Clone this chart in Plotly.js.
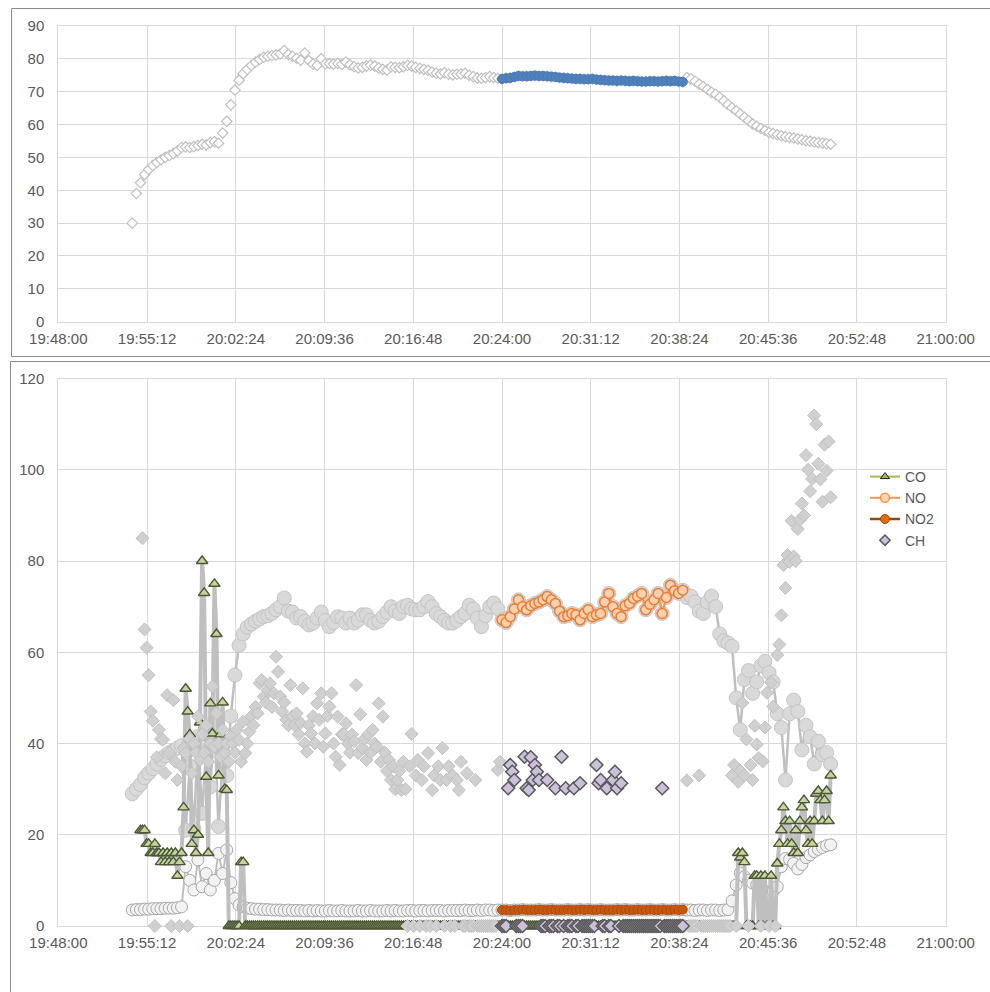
<!DOCTYPE html>
<html><head><meta charset="utf-8">
<script src="https://cdn.plot.ly/plotly-3.0.1.min.js"></script>
<style>html,body{margin:0;padding:0;background:#fff}#chart{width:990px;height:992px}</style>
</head><body><div id="chart"></div>
<script>
// ---------------- data ----------------
const xTickLabels = ['19:48:00','19:55:12','20:02:24','20:09:36','20:16:48','20:24:00','20:31:12','20:38:24','20:45:36','20:52:48','21:00:00'];
const startTime = '19:54:00';     // first sample
const stepMain = 20;              // s between samples (top, NO, NO2)
const stepFine = 10;              // s between samples (CO, CH)
const windowStart = '20:24:00';   // highlighted measuring window
const windowEnd = '20:38:40';

const topVals = [30,39,42.3,44.8,46.3,47.5,48.5,49.3,50,50.6,
51.2,52,53,53.2,53,53.3,53.6,54,53.8,54.5,
54.8,54.3,57.4,61,66,70.5,73.5,75.5,76.8,78,
79,79.8,80.5,80.8,81,81.2,81.5,82.5,81.3,80.8,
80.2,79.6,81.8,79.5,78.4,78,80,78.5,78.6,78.4,
78.6,78.3,79,78.2,77.6,77.2,77.4,77.8,78.1,77.8,
77.2,76.8,76.6,77.6,77.4,77.3,77.6,78,77.8,77.4,
77.1,76.8,76.5,76,75.6,75.4,75.8,75.3,75.1,75.3,
75.4,75.6,75,74.6,74.2,74.1,74.3,74.6,74.3,74.1,
73.9,74.1,74.2,74.5,74.8,74.7,74.7,74.8,74.9,74.8,
74.8,74.7,74.6,74.5,74.3,74.2,74.1,74,73.9,73.9,
73.8,73.8,73.9,73.7,73.6,73.5,73.4,73.4,73.3,73.4,
73.3,73.2,73.3,73.2,73.1,73.1,73.2,73.2,73.1,73.2,
73.3,73.2,73.3,73.1,73,74.3,73.9,73.2,72.3,71.6,
70.7,69.8,69.2,68.3,67.2,66.1,65.1,64.2,63.2,62.2,
61.2,60.2,59.5,58.8,58.2,57.6,57.3,56.9,56.6,56.3,
56.1,55.9,55.6,55.4,55.1,54.9,54.7,54.5,54.4,54.2,
54];

const noVals = [29,30,31,32.5,33.5,34.5,35.5,36.5,37.3,38,
38.5,39,39.5,21,35,21.3,41.5,24.7,38.6,30.5,
44.5,21.8,36.4,33,46,55,61.5,64,65.5,66.2,
66.8,67.3,67.8,68,68.5,69.3,70,71.9,69,68.8,
67.5,67.8,66.8,66,66.4,67.5,68.8,67,65.6,66.5,
67.8,67.5,66.4,67.5,66.4,67,68.2,68.2,67,66.4,
66.8,67.8,68.8,70,69,68.5,70,70.3,69.5,69.3,
69.3,70,71.1,70,68.5,67.8,67,66.4,66.4,67,
67.8,68.5,70.3,69.5,67.5,65.6,68,70,70.8,69.5,
67.1,66.5,67.8,69.5,71.5,70,69.3,70.2,70.7,71,
71.5,72.2,71.5,70.7,69,67.8,68,68.5,68.2,67.1,
68.5,69.3,67.8,68.2,68.5,71,72.9,70,68.5,67.8,
70.2,70.7,71.8,72.3,72.9,69.3,70.5,71.5,72.9,68.5,
72,74.7,73.5,72.9,73.6,72,72.3,71,69,68.5,
71,72.3,70,64,62.5,62,61.3,50,43,54,
56,51,53.5,57,58,55.5,53.5,46.5,43.5,32,
46.5,49.5,47,38.6,44,41.5,35.5,40.5,37.5,38,
35.5];

const no2Vals = [3.5,3.6,3.6,3.7,3.7,3.8,3.8,3.8,3.9,3.9,
3.9,4,4.2,13,10,7.9,14.5,8.6,11.5,7.9,
10,15.9,11.5,16.7,9.5,6,4.6,4.2,3.9,3.8,
3.7,3.7,3.6,3.6,3.5,3.5,3.5,3.4,3.5,3.4,
3.4,3.4,3.3,3.4,3.3,3.4,3.3,3.3,3.4,3.3,
3.3,3.4,3.3,3.3,3.3,3.4,3.3,3.3,3.4,3.3,
3.3,3.3,3.4,3.3,3.4,3.3,3.3,3.4,3.4,3.3,
3.4,3.4,3.3,3.4,3.4,3.4,3.3,3.4,3.4,3.4,
3.4,3.5,3.4,3.4,3.5,3.4,3.5,3.5,3.4,3.5,
3.5,3.5,3.4,3.5,3.5,3.6,3.5,3.5,3.5,3.6,
3.5,3.5,3.6,3.5,3.5,3.5,3.6,3.5,3.5,3.6,
3.5,3.6,3.5,3.5,3.6,3.5,3.5,3.5,3.6,3.5,
3.6,3.5,3.5,3.6,3.5,3.5,3.6,3.5,3.5,3.6,
3.5,3.5,3.6,3.5,3.6,3.5,3.5,3.4,3.5,3.5,
3.4,3.5,3.5,3.4,3.5,3.6,5.5,9,11.6,10.8,
10,9.4,9,8.3,7.6,7.3,7.6,8.6,13,14.8,
14.6,13.7,12.5,13.5,15,15.6,16.3,16.8,17.2,17.6,
17.8];

const coVals = [null,null,null,null,21,21,21,18,18,16,
16,18,16,16,14,16,14,16,14,16,
14,16,11,14,16,26,52,47,42,18,
21,16,20,44.6,80,73,32.7,16,48.8,42.2,
75,64,33,42,49,30,29.8,0,0,0,
0,0,0,14,14,0,0,0,0,0,
0,0,0,0,0,0,0,0,0,0,
0,0,0,0,0,0,0,0,0,0,
0,0,0,0,0,0,0,0,0,0,
0,0,0,0,0,0,0,0,0,0,
0,0,0,0,0,0,0,0,0,0,
0,0,0,0,0,0,0,0,0,0,
0,0,0,0,0,0,0,0,0,0,
0,0,0,0,0,0,0,0,0,0,
0,0,0,0,0,0,0,0,0,0,
0,0,0,0,0,0,0,0,0,0,
0,0,0,0,0,0,0,0,0,0,
0,0,0,0,0,0,0,0,0,0,
0,0,0,0,0,0,0,0,0,0,
0,0,0,0,0,0,0,0,0,0,
0,0,0,0,0,0,0,0,0,0,
0,0,0,0,0,0,0,0,0,0,
0,0,0,0,0,0,0,0,0,0,
0,0,0,0,0,0,0,0,0,0,
0,0,0,0,0,0,0,0,0,0,
0,0,0,0,0,0,0,0,0,0,
0,0,0,0,0,0,0,0,0,0,
0,0,0,0,0,0,0,0,0,0,
0,0,0,0,0,0,0,0,0,0,
0,0,0,0,0,16,15,16,14,0,
0,0,0,11,11,0,11,0,11,0,
0,11,0,0,13.7,18,21,26,23,18,
23,18,16,21,16,23,26,27.6,21,18,
23,18,23,29,29.6,27.6,23,27.6,29.6,23,
33];

const chVals = [null,null,null,null,null,85,65,61,55,47,
45,0,37,43,41,40.8,33.5,50.6,38,0,
49.5,36,32,0,35,39,37.9,0,41,33.5,
40,38,45.9,36.4,42,38,44,36,40,52.5,
39.3,46.6,40,37.1,43,38,40,36,41.5,40,
38,43,40.8,36,44.8,37.9,40,42.6,46,44,
48,46.6,53.2,53.9,50.3,49,51.7,53.2,48,51,
59,55.7,50.3,47,49,45.2,44,52.8,46,44,
46.6,42,44.5,52.1,40,38.2,44,42.2,46,40,
48.8,45.2,51,39.3,42.2,46,48.1,51,40,37.1,
45.9,35.3,42,42,44.4,40,38,42,40.5,52.8,
37.9,46.4,39,41,36.4,42,38,43,40,39.3,
48.8,36,45.9,38,34,36.4,32,35,30,32,
34,29.8,36,30,0,35,42.1,0,33,36.4,
0,32,35,0,37.9,0,29.8,33,0,35,
32,39,0,32,35,0,33,0,32,29.8,
36,0,0,33.5,0,0,0,32,0,0,
0,0,0,0,0,0,0,0,34.2,36,
0,0,0,30.2,35.3,33.8,32,0,0,0,
0,37.1,30.2,29.8,37,32,35.3,33.8,32,0,
0,0,32,0,0,0,30.2,0,0,37.1,
0,30.2,0,0,0,30.2,0,0,31.3,0,
0,0,0,0,0,0,35.3,31.3,32,0,
0,30.2,0,0,32,33.8,30.2,0,31.3,0,
0,0,0,0,0,0,0,0,0,0,
0,0,0,0,0,0,0,0,30.2,0,
0,0,0,0,0,0,0,0,0,0,
31.9,0,0,0,0,0,33,0,0,0,
0,0,0,0,0,0,0,0,0,0,
0,0,33,35.3,0,31.6,34,48.9,33,40.9,
0,35.3,32,43.9,39.8,36.8,0,36.1,43.5,51.1,
0,53.4,48.1,0,59.4,61.7,68.1,79.1,74.1,81.3,
79.8,88.8,81,80,87,89,92.6,90,103.2,100,
95.3,98,111.9,110,101.3,97.9,93,105.5,99.8,106.2,
94];

// ---------------- helpers ----------------
const DAY = '2000-01-01 ';
function toSec(hms){const p=hms.split(':').map(Number);return p[0]*3600+p[1]*60+p[2];}
function pad(n){return (n<10?'0':'')+n;}
function toStamp(sec){return DAY+pad(Math.floor(sec/3600))+':'+pad(Math.floor(sec%3600/60))+':'+pad(sec%60);}
function sampleSecs(n, step){const s0=toSec(startTime);return Array.from({length:n},(_,i)=>s0+i*step);}
const wS = toSec(windowStart), wE = toSec(windowEnd);
function series(vals, step){
  const secs = sampleSecs(vals.length, step);
  return {x: secs.map(toStamp), y: vals, secs};
}
function windowPart(s){
  const x=[],y=[];
  s.secs.forEach((t,i)=>{if(t>=wS&&t<=wE){x.push(s.x[i]);y.push(s.y[i]);}});
  return {x,y};
}

const sTop = series(topVals, stepMain);
const sNO = series(noVals, stepMain);
const sNO2 = series(no2Vals, stepMain);
const sCO = series(coVals, stepFine);
const sCH = series(chVals, stepFine);
const wTop = windowPart(sTop), wNO = windowPart(sNO), wNO2 = windowPart(sNO2), wCH = windowPart(sCH);

// ---------------- traces ----------------
const traces = [
  {x:sTop.x, y:sTop.y, xaxis:'x', yaxis:'y', mode:'markers', showlegend:false, hoverinfo:'skip',
   marker:{symbol:'diamond', size:8, color:'#ffffff', line:{color:'#bfbfbf', width:1.2}}},
  {x:wTop.x, y:wTop.y, xaxis:'x', yaxis:'y', mode:'markers', showlegend:false, hoverinfo:'skip',
   marker:{symbol:'circle', size:9, color:'#4f81bd', line:{color:'#4a7ab5', width:1}}},

  {x:sNO.x, y:sNO.y, xaxis:'x2', yaxis:'y2', mode:'lines+markers', showlegend:false, cliponaxis:false,
   line:{color:'#bfbfbf', width:2.5}, marker:{size:14, color:'#d9d9d9', line:{color:'#c4c4c4', width:1}}},
  {x:sNO2.x, y:sNO2.y, xaxis:'x2', yaxis:'y2', mode:'lines+markers', showlegend:false, cliponaxis:false,
   line:{color:'#bfbfbf', width:2}, marker:{size:12, color:'#f2f2f2', line:{color:'#a6a6a6', width:1}}},
  {x:sCO.x, y:sCO.y, xaxis:'x2', yaxis:'y2', mode:'lines+markers', showlegend:false, cliponaxis:false,
   line:{color:'#bfbfbf', width:4}, marker:{symbol:'triangle-up', size:10, color:'#c3d69b', line:{color:'#4d5636', width:1.4}}},
  {x:sCH.x, y:sCH.y, xaxis:'x2', yaxis:'y2', mode:'markers', showlegend:false, cliponaxis:false,
   marker:{symbol:'diamond', size:10, color:'#d0d0d0', line:{color:'#c0c0c0', width:1}}},

  {x:wNO.x, y:wNO.y, xaxis:'x2', yaxis:'y2', mode:'lines+markers', showlegend:false, cliponaxis:false,
   line:{color:'#f79646', width:2}, marker:{size:10, color:'#fbd0ae', line:{color:'#ed7d31', width:1.5}}},
  {x:wNO2.x, y:wNO2.y, xaxis:'x2', yaxis:'y2', mode:'lines+markers', showlegend:false, cliponaxis:false,
   line:{color:'#c55a11', width:2}, marker:{size:9, color:'#c9580f', line:{color:'#b04a0e', width:1}}},
  {x:wCH.x, y:wCH.y, xaxis:'x2', yaxis:'y2', mode:'markers', showlegend:false, cliponaxis:false,
   marker:{symbol:'diamond', size:10, color:'#ccc0da', line:{color:'#595959', width:1.5}}},

  // legend entries
  {x:[null], y:[null], xaxis:'x2', yaxis:'y2', name:'CO', mode:'lines+markers',
   line:{color:'#9bbb59', width:2}, marker:{symbol:'triangle-up', size:8, color:'#9bbb59', line:{color:'#1f1f1f', width:1}}},
  {x:[null], y:[null], xaxis:'x2', yaxis:'y2', name:'NO', mode:'lines+markers',
   line:{color:'#f79646', width:2}, marker:{size:9, color:'#fcd5b4', line:{color:'#f79646', width:1.5}}},
  {x:[null], y:[null], xaxis:'x2', yaxis:'y2', name:'NO2', mode:'lines+markers',
   line:{color:'#984807', width:2.5}, marker:{size:9, color:'#e46c0a', line:{color:'#984807', width:1}}},
  {x:[null], y:[null], xaxis:'x2', yaxis:'y2', name:'CH', mode:'markers',
   marker:{symbol:'diamond', size:8, color:'#ccc0da', line:{color:'#595959', width:1.5}}}
];

// ---------------- layout ----------------
const fam = '"Liberation Sans", Arial, sans-serif';
const tickFont = {family:fam, size:15, color:'#595959'};
const legFont = {family:fam, size:14, color:'#595959'};
const W = 990, H = 992;
const px = v => v / W, py = v => (H - v) / H;
const tickVals = xTickLabels.map(t => DAY + t);
function xAxis(anchor, dom){
  return {type:'date', domain:dom, anchor:anchor,
    range:[tickVals[0], tickVals[tickVals.length-1]],
    tickmode:'array', tickvals:tickVals, ticktext:xTickLabels,
    showgrid:true, gridcolor:'#d9d9d9', gridwidth:1, showline:true, linecolor:'#d9d9d9', linewidth:1, mirror:true,
    zeroline:false, ticks:'', tickfont:tickFont, ticklabelstandoff:3, fixedrange:true, layer:'below traces'};
}
function yAxis(anchor, dom, max, dt){
  return {domain:dom, anchor:anchor, range:[0,max], dtick:dt, tick0:0,
    showgrid:true, gridcolor:'#d9d9d9', gridwidth:1, showline:true, linecolor:'#d9d9d9', linewidth:1, mirror:true,
    zeroline:false, ticks:'', tickfont:tickFont, ticklabelstandoff:10, fixedrange:true, layer:'below traces'};
}
const xDom = [px(58.3), px(945.7)];
const layout = {
  width:W, height:H, margin:{l:0,r:0,t:0,b:0},
  paper_bgcolor:'#ffffff', plot_bgcolor:'#ffffff', font:legFont,
  xaxis: xAxis('y', xDom),
  yaxis: yAxis('x', [py(321.7), py(26)], 90, 10),
  xaxis2: xAxis('y2', xDom),
  yaxis2: yAxis('x2', [py(926), py(378.5)], 120, 20),
  showlegend:true,
  legend:{x:px(865), xanchor:'left', y:py(461), yanchor:'top', bgcolor:'rgba(0,0,0,0)',
    font:legFont, itemwidth:30, tracegroupgap:0},
  shapes:[
    {type:'rect', xref:'paper', yref:'paper', x0:px(11.5), x1:1.05, y0:py(356.5), y1:py(8.5),
     line:{color:'#8c8c8c', width:1}, fillcolor:'rgba(0,0,0,0)', layer:'below'},
    {type:'rect', xref:'paper', yref:'paper', x0:px(10.5), x1:1.05, y0:-0.05, y1:py(361.5),
     line:{color:'#8c8c8c', width:1}, fillcolor:'rgba(0,0,0,0)', layer:'below'}
  ]
};
Plotly.newPlot('chart', traces, layout, {displayModeBar:false, staticPlot:true});
</script></body></html>
